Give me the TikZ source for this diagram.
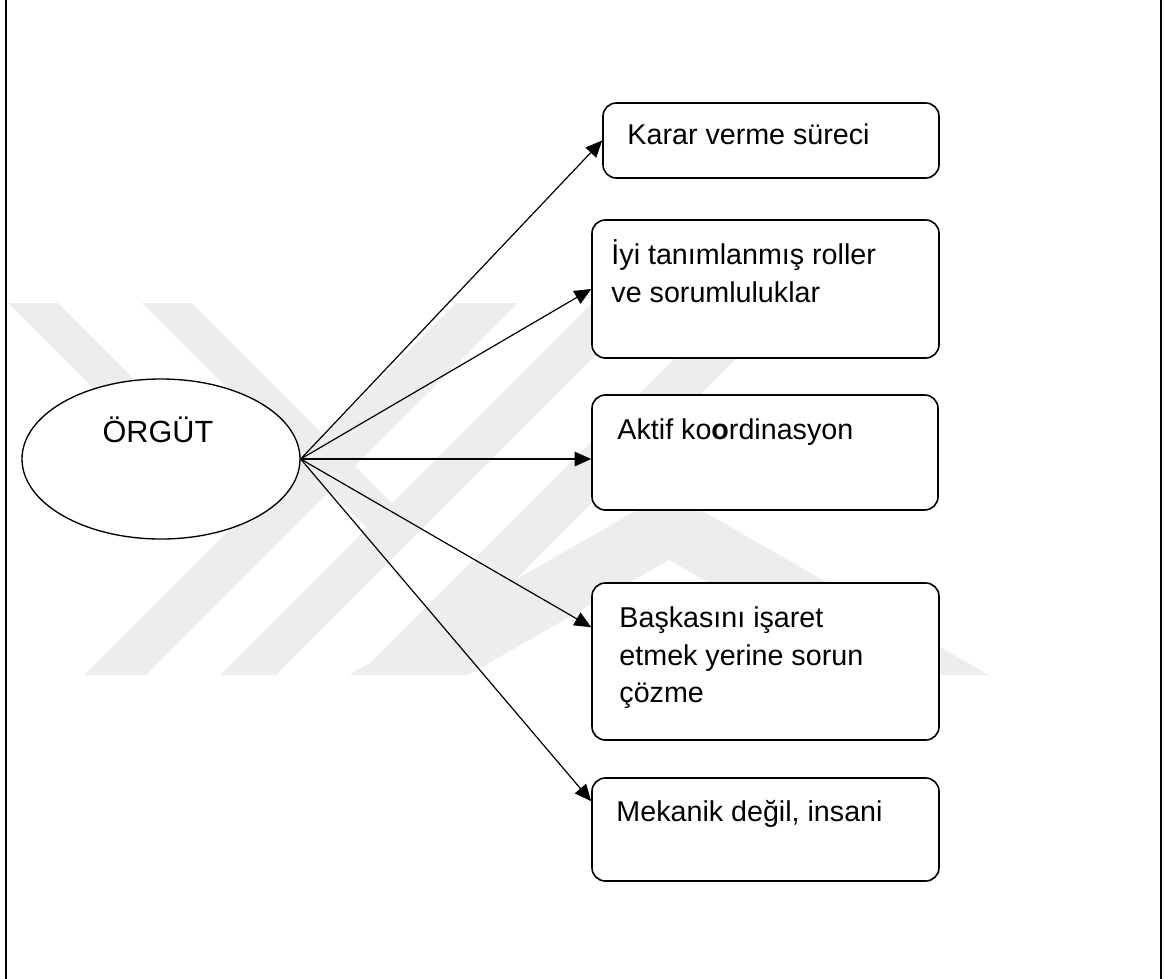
\documentclass[tikz,border=0pt]{standalone}
\usepackage{fontspec}
\setmainfont{Liberation Sans}
\usetikzlibrary{arrows.meta,shapes.geometric,calc}

\tikzset{
  kutu/.style={draw, rounded corners=10pt, line width=1.2pt, fill=white, inner sep=0pt},
  yazi/.style={font=\fontsize{21.5}{28.4}\selectfont, inner sep=0pt, anchor=base west},
  ok/.style={-{Triangle[length=12.5pt,width=11pt]}, line width=0.9pt},
  damga/.style={fill=black!7, draw=none}
}

\begin{document}
\begin{tikzpicture}[x=0.75pt,y=-0.75pt]
    \useasboundingbox (0,0) rectangle (1165,979);
    % background stamp
    \fill[damga] (8,303) -- (58,303) -- (282,527) -- (232,527) -- cycle;
    \fill[damga] (142,303) -- (192,303) -- (417,528) -- (367,528) -- cycle;
    \fill[damga] (84,675) -- (146,675) -- (518,303) -- (456,303) -- cycle;
    \fill[damga] (220,675) -- (276,675) -- (648,303) -- (592,303) -- cycle;
    \fill[damga] (358,675) -- (420,675) -- (792,303) -- (730,303) -- cycle;
    \fill[damga] (349,675) -- (669,492) -- (989,675) -- (870,675) -- (669,560) -- (468,675) -- cycle;
    % frame
    \draw[line width=1.6pt] (6,0) -- (6,979);
    \draw[line width=1.6pt] (1161,0) -- (1161,979);
    % centre
    \node[ellipse, draw, fill=white, line width=1pt, minimum width=208.5pt,
          minimum height=120pt, inner sep=0pt] (org) at (161,459) {};
    \node[font=\fontsize{23}{27}\selectfont, inner sep=0pt, anchor=base] (orgyazi) at (158,442) {ÖRGÜT};
    % boxes
    \node[kutu, minimum width=252pt, minimum height=56.25pt] (karar) at (771,140.5) {};
    \node[kutu, minimum width=260.25pt, minimum height=103.5pt] (roller) at (765.5,289) {};
    \node[kutu, minimum width=259.5pt, minimum height=86.25pt] (koord) at (765,452.5) {};
    \node[kutu, minimum width=260.25pt, minimum height=117.75pt] (sorun) at (765.5,661.5) {};
    \node[kutu, minimum width=260.25pt, minimum height=77.25pt] (insani) at (765.5,829.5) {};
    \node[yazi] (kararyazi) at ($(karar.north west)+(25,42)$) {Karar verme süreci};
    \node[yazi] (rolleryazi) at ($(roller.north west)+(20,45)$) {\parbox[t]{8cm}{İyi tanımlanmış roller\\ve sorumluluklar}};
    \node[yazi] (koordyazi) at ($(koord.north west)+(26,45)$) {Aktif ko\textbf{o}rdinasyon};
    \node[yazi] (sorunyazi) at ($(sorun.north west)+(28,45)$) {\parbox[t]{8cm}{Başkasını işaret\\etmek yerine sorun\\çözme}};
    \node[yazi] (insaniyazi) at ($(insani.north west)+(25,44)$) {Mekanik değil, insani};
    % arrows
    \coordinate (kok) at (org.east);
    \draw[ok] (kok) -- (karar.west);
    \draw[ok] (kok) -- (roller.west);
    \draw[ok] (kok) -- (koord.west |- kok);
    \draw[ok] (kok) -- ($(sorun.north west)+(0,45)$);
    \draw[ok] (kok) -- ($(insani.north west)+(0,24)$);
\end{tikzpicture}
\end{document}
